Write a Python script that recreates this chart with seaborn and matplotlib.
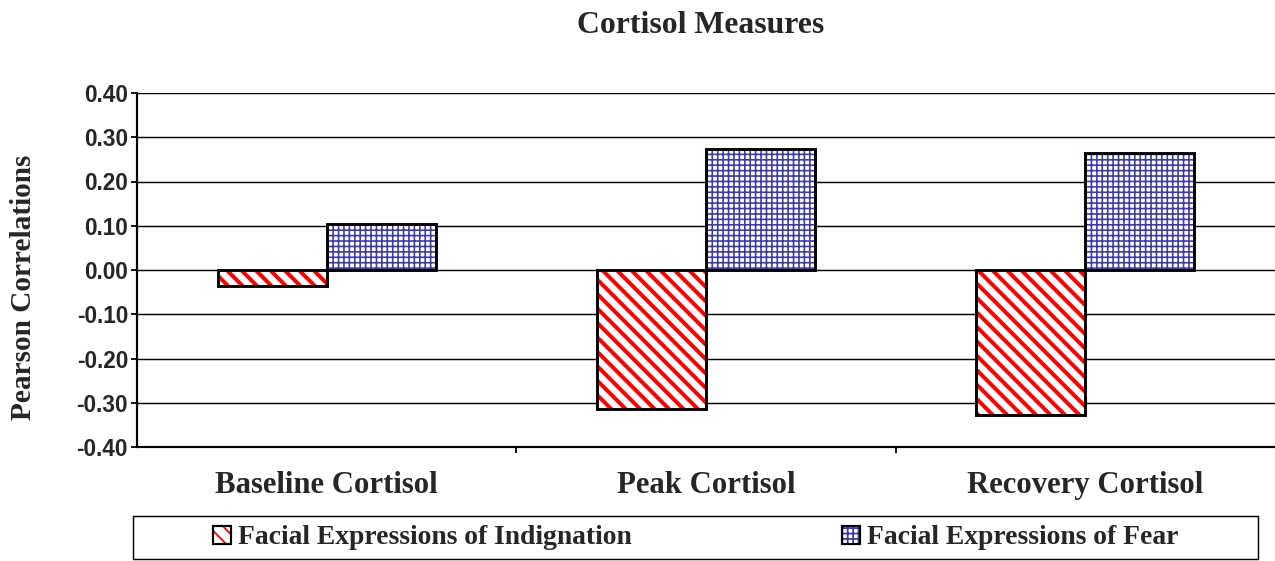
import matplotlib
matplotlib.use('Agg')
import matplotlib.pyplot as plt
from matplotlib.patches import Rectangle, Patch
from matplotlib.font_manager import FontProperties
import seaborn as sns
import pandas as pd


categories = ['Baseline Cortisol', 'Peak Cortisol', 'Recovery Cortisol']
series = ['Facial Expressions of Indignation', 'Facial Expressions of Fear']
indignation = [-0.036, -0.314, -0.327]
fear = [0.104, 0.273, 0.265]
y_ticks = [-0.40, -0.30, -0.20, -0.10, 0.00, 0.10, 0.20, 0.30, 0.40]

df = pd.DataFrame({
    'Measure': categories * 2,
    'Series': [series[0]] * 3 + [series[1]] * 3,
    'r': indignation + fear,
})

sns.set_style('white')
plt.rcParams['font.family'] = ['Liberation Serif', 'DejaVu Serif']

DPI = 130
W, H = 1275, 561
fig = plt.figure(figsize=(W / DPI, H / DPI), dpi=DPI)
ax = fig.add_axes([137 / W, 1 - 447 / H, 1138 / W, 354 / H])

hatch_colors = ['#ff0000', '#3c3ca8']
hatches = ['\\\\\\', '++++']
hatch_lw = [2.2, 0.9]

sns.barplot(data=df, x='Measure', y='r', hue='Series', order=categories,
            hue_order=series, palette=['white', 'white'], width=0.575, gap=0,
            saturation=1, legend=False, ax=ax, zorder=3)

# hatch in colour, outline in black drawn on top
for i, cont in enumerate(ax.containers):
    for bar in cont:
        bar.set_hatch(hatches[i])
        bar.set_edgecolor(hatch_colors[i])
        bar.set_linewidth(0)
        if hasattr(bar, 'set_hatch_linewidth'):
            bar.set_hatch_linewidth(hatch_lw[i])
        ax.add_patch(Rectangle((bar.get_x(), bar.get_y()), bar.get_width(),
                               bar.get_height(), fill=False, edgecolor='black',
                               linewidth=1.6, zorder=4))

ax.set_xlim(-0.5, 2.5)
ax.set_ylim(-0.4, 0.4)
ax.set_axisbelow(True)
ax.yaxis.grid(True, color='black', linewidth=0.8)
ax.xaxis.grid(False)
for side in ['top', 'right']:
    ax.spines[side].set_visible(False)
for side in ['left', 'bottom']:
    ax.spines[side].set_color('black')
    ax.spines[side].set_linewidth(1.2)

ax.set_yticks(y_ticks, labels=[f'{v:.2f}' for v in y_ticks])
for lab in ax.get_yticklabels():
    lab.set_fontfamily('Liberation Sans')
    lab.set_fontweight('bold')
    lab.set_fontsize(12.5)
ax.tick_params(axis='y', left=True, length=3.3, width=1, pad=1.7, color='black')

ax.set_xticks([0.5, 1.5], minor=True)
ax.tick_params(axis='x', which='minor', bottom=True, length=3.3, width=1, color='black')
ax.tick_params(axis='x', which='major', bottom=False, length=0, pad=13.2)
for lab in ax.get_xticklabels():
    lab.set_fontweight('bold')
    lab.set_fontsize(17)
ax.set_xlabel('')
ax.set_ylabel('')

fig.text(701 / W, 1 - 33 / H, 'Cortisol Measures', ha='center', va='baseline',
         fontsize=17.6, fontweight='bold')
fig.text(24 / W, 1 - 287 / H, 'Pearson Correlations', rotation=90, ha='center',
         va='center', fontsize=16.2, fontweight='bold')

handles = []
for i in range(2):
    hp = Patch(facecolor='white', edgecolor=hatch_colors[i], hatch=hatches[i], linewidth=0)
    if hasattr(hp, 'set_hatch_linewidth'):
        hp.set_hatch_linewidth(hatch_lw[i])
    op = Patch(facecolor='none', edgecolor='black', linewidth=1.2)
    handles.append((hp, op))
fig.legend(handles, series, loc='center', bbox_to_anchor=(695.5 / W, 1 - 538 / H),
           ncol=2, frameon=False, handlelength=0.65, handleheight=0.65,
           handletextpad=0.25, columnspacing=7.6, borderaxespad=0,
           prop=FontProperties(family='Liberation Serif', weight='bold', size=15.3))
fig.add_artist(Rectangle((133 / W, 1 - 559 / H), (1258 - 133) / W, 43 / H,
                         transform=fig.transFigure, fill=False,
                         edgecolor='black', linewidth=0.8))

fig.savefig('out.png', dpi=DPI)
